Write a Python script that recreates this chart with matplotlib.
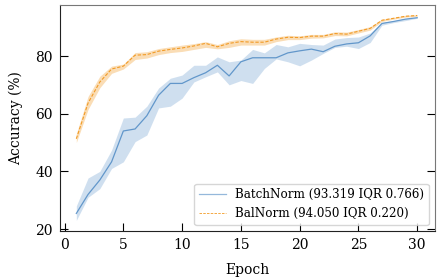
import matplotlib
matplotlib.use('Agg')
import matplotlib.pyplot as plt
import numpy as np

epochs = list(range(1, 31))

# BatchNorm: median accuracy and IQR band
bn_mid = [25.4, 32.0, 37.0, 43.3, 54.0, 54.7, 59.3, 66.4, 70.5, 70.5,
          72.5, 74.2, 76.8, 73.1, 78.0, 79.4, 79.4, 79.4, 81.1, 81.8,
          82.4, 81.5, 83.4, 84.2, 84.6, 87.0, 91.3, 92.0, 92.8, 93.3]
bn_low = [23.0, 31.0, 34.0, 41.0, 43.3, 50.3, 52.6, 62.0, 62.6, 65.4,
          71.0, 72.8, 74.5, 70.0, 71.5, 70.5, 75.7, 79.0, 78.0, 76.6,
          78.6, 80.9, 83.0, 83.4, 82.6, 84.7, 90.7, 91.6, 92.3, 93.1]
bn_high = [28.0, 37.7, 40.0, 47.4, 58.5, 58.8, 62.6, 68.9, 72.3, 73.4,
           76.8, 76.8, 79.7, 78.0, 78.6, 82.3, 81.1, 84.0, 83.2, 84.4,
           84.0, 83.8, 85.9, 86.4, 86.6, 88.0, 91.7, 92.3, 93.0, 93.5]

# BalNorm: median accuracy and IQR band
bal_mid = [51.3, 63.7, 71.0, 75.5, 76.5, 80.3, 80.5, 81.7, 82.3, 82.8,
           83.5, 84.4, 83.2, 84.4, 85.0, 84.8, 84.8, 85.9, 86.5, 86.4,
           86.9, 86.9, 87.8, 87.6, 88.6, 89.6, 92.4, 93.1, 93.8, 94.05]
bal_low = [50.0, 61.5, 69.0, 74.0, 75.5, 78.8, 79.3, 80.5, 81.2, 81.6,
           82.3, 83.0, 82.5, 83.0, 83.8, 83.8, 83.8, 85.0, 85.7, 85.7,
           86.2, 86.3, 87.1, 87.0, 88.0, 89.0, 92.0, 92.8, 93.5, 93.8]
bal_high = [53.0, 66.0, 73.0, 76.5, 77.2, 81.2, 81.5, 82.6, 83.2, 83.8,
            84.3, 85.0, 84.0, 85.3, 86.0, 85.8, 85.8, 86.6, 87.2, 87.0,
            87.5, 87.5, 88.4, 88.3, 89.2, 90.2, 92.8, 93.4, 94.1, 94.3]

labels = ['BatchNorm (93.319 IQR 0.766)', 'BalNorm (94.050 IQR 0.220)']

plt.rcParams['font.family'] = ['DejaVu Serif']
plt.rcParams['font.size'] = 8

fig = plt.figure(figsize=(4.37, 2.78), dpi=100)
ax = fig.add_axes([0.137, 0.169, 0.858, 0.814])

blue = '#4f8ac4'
orange = '#f29b26'

ax.fill_between(epochs, bn_low, bn_high, color='#a9c6e3', alpha=0.55, lw=0)
ax.plot(epochs, bn_mid, '-', color=blue, lw=0.9, alpha=0.85, label=labels[0])
ax.fill_between(epochs, bal_low, bal_high, color='#f7c27a', alpha=0.55, lw=0)
ax.plot(epochs, bal_mid, '--', color=orange, lw=0.8, dashes=(3, 1.5),
        label=labels[1])

ax.set_xlim(-0.4, 31.5)
ax.set_ylim(19.3, 97.8)
ax.set_xticks([0, 5, 10, 15, 20, 25, 30])
ax.set_yticks([20, 40, 60, 80])
ax.tick_params(direction='in', length=6, width=0.8, right=True, top=False,
               labelsize=10, pad=5)
for side in ['top', 'right']:
    ax.spines[side].set_color('#777777')
for side in ['left', 'bottom']:
    ax.spines[side].set_color('#222222')

ax.set_xlabel('Epoch', fontsize=10, labelpad=8)
ax.set_ylabel('Accuracy (%)', fontsize=10, labelpad=9)

leg = ax.legend(loc='lower right', fontsize=8.6, handlelength=2.2,
                borderaxespad=0.5, framealpha=0.8)
leg.get_frame().set_edgecolor('#cccccc')
leg.legend_handles[0].set_alpha(0.6)
leg.legend_handles[1].set_linewidth(0.6)

fig.savefig('out.png', dpi=100)
